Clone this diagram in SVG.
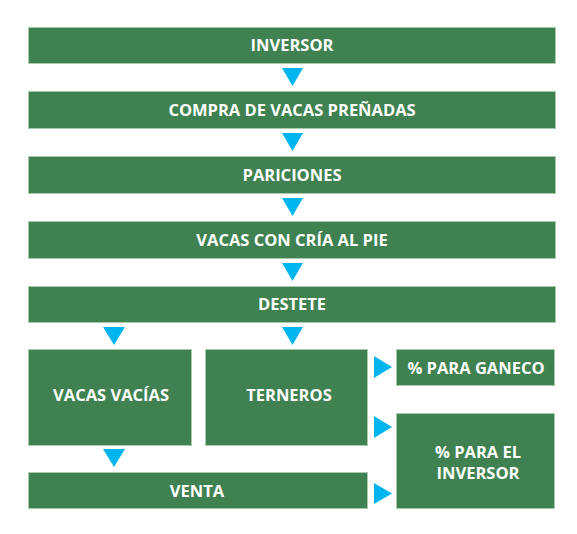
<svg xmlns="http://www.w3.org/2000/svg" width="577" height="534" viewBox="0 0 577 534">
<defs>
<style>
.box{fill:#3f8151;stroke:#a8cbb0;stroke-width:1}
.t{fill:#ffffff;font-family:"Open Sans","Liberation Sans",sans-serif;font-weight:bold;font-size:16.5px;text-anchor:middle;dominant-baseline:central}
.ar{fill:#00b4ef}
</style>
</defs>
<rect width="577" height="534" fill="#ffffff"/>
<g id="n-inversor"><rect class="box" x="28.5" y="27.5" width="527" height="36"/><text class="t" x="292" y="44.5">INVERSOR</text></g>
<g id="n-compra"><rect class="box" x="28.5" y="91.5" width="527" height="37"/><text class="t" x="292" y="109">COMPRA DE VACAS PREÑADAS</text></g>
<g id="n-pariciones"><rect class="box" x="28.5" y="156.5" width="527" height="37"/><text class="t" x="292" y="174">PARICIONES</text></g>
<g id="n-vacascria"><rect class="box" x="28.5" y="221.5" width="527" height="37"/><text class="t" x="292" y="239">VACAS CON CRÍA AL PIE</text></g>
<g id="n-destete"><rect class="box" x="28.5" y="286.5" width="527" height="36"/><text class="t" x="292" y="303.5">DESTETE</text></g>
<g id="n-vacasvacias"><rect class="box" x="28.5" y="349.5" width="163" height="96"/><text class="t" x="111" y="394">VACAS VACÍAS</text></g>
<g id="n-terneros"><rect class="box" x="205.5" y="349.5" width="162" height="96"/><text class="t" x="289" y="394">TERNEROS</text></g>
<g id="n-ganeco"><rect class="box" x="396.5" y="349.5" width="158" height="36"/><text class="t" x="476" y="367">% PARA GANECO</text></g>
<g id="n-pinversor"><rect class="box" x="396.5" y="413.5" width="158" height="95"/><text class="t" x="478" y="451">% PARA EL</text><text class="t" x="478" y="472">INVERSOR</text></g>
<g id="n-venta"><rect class="box" x="28.5" y="472.5" width="339" height="36"/><text class="t" x="197" y="490">VENTA</text></g>
<g id="connectors">
<polygon class="ar" points="282,68 303,68 292.5,86"/>
<polygon class="ar" points="282,133 303,133 292.5,151"/>
<polygon class="ar" points="282,198 303,198 292.5,216"/>
<polygon class="ar" points="282,263 303,263 292.5,281"/>
<polygon class="ar" points="103,327 125,327 114,345"/>
<polygon class="ar" points="282,327 303,327 292.5,345"/>
<polygon class="ar" points="103,449 125,449 114,467"/>
<polygon class="ar" points="374,356 374,378 392,367"/>
<polygon class="ar" points="374,416 374,438 392,427"/>
<polygon class="ar" points="374,483 374,504 392,493.5"/>
</g>
</svg>
